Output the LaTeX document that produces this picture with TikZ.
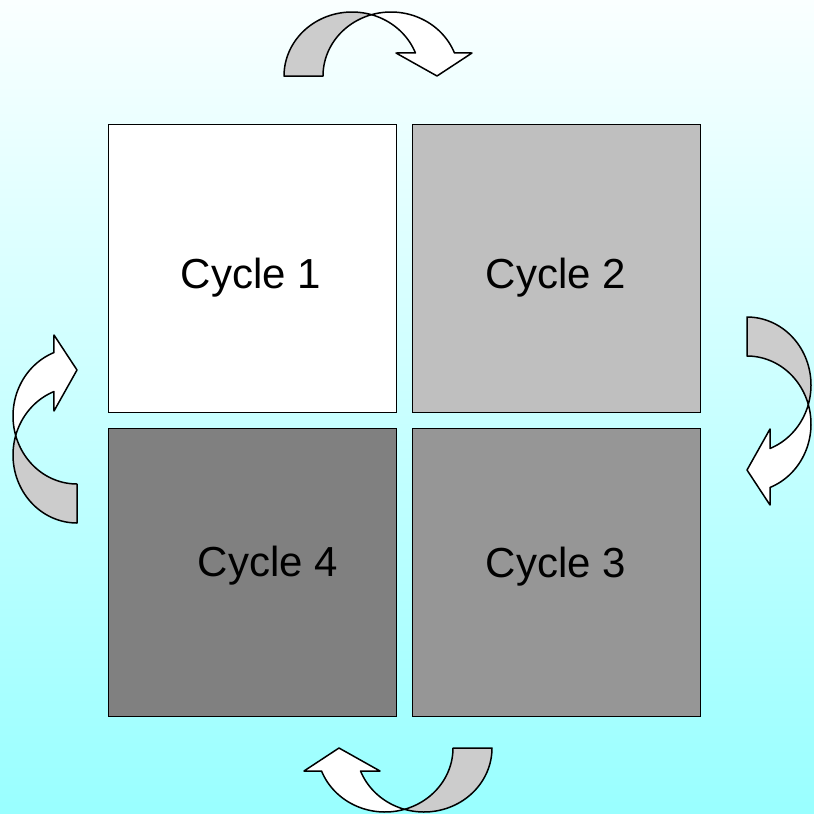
\documentclass[tikz,border=0pt]{standalone}
\usepackage{fontspec}
\setmainfont{Liberation Sans}
\begin{document}
\begin{tikzpicture}[x=1pt,y=-1pt,
  cell/.style={draw=black,line width=1pt,minimum size=288pt,inner sep=0pt},
  label/.style={font=\fontsize{42}{50}\selectfont,anchor=base,inner sep=0pt},
  back/.style={fill=black!20,draw=black,line width=1.5pt,line join=round},
  front/.style={fill=white,draw=black,line width=1.5pt,line join=round}]
% page and background gradient
\shade[top color={rgb,255:red,250;green,255;blue,255},bottom color={rgb,255:red,153;green,255;blue,255}]
  (0,0) rectangle (814,814);
\useasboundingbox (0,0) rectangle (814,814);

% the four cycle squares
\node[cell,fill=white]       (c1) at (252,268) {};
\node[cell,fill=black!25]    (c2) at (556,268) {};
\node[cell,fill=black!41]    (c3) at (556,572) {};
\node[cell,fill=black!50]    (c4) at (252,572) {};
\node[label] (t1) at (251,288) {Cycle 1};
\node[label] (t2) at (556,288) {Cycle 2};
\node[label] (t3) at (556,577) {Cycle 3};
\node[label] (t4) at (268,576) {Cycle 4};

% curved arrow: grey back band on the left, white front band with head on the right
\newcommand{\curvedarrow}{%
  \path[back] (284,76)
    -- plot[domain=180:73.3,samples=40,variable=\t] ({352+68*cos(\t)},{76-64*sin(\t)})
    -- plot[domain=106.7:180,samples=40,variable=\t] ({391+68*cos(\t)},{76-64*sin(\t)})
    -- cycle;
  \path[front]
    plot[domain=106.7:21.1,samples=40,variable=\t] ({391+68*cos(\t)},{76-64*sin(\t)})
    -- (472,53) -- (437,76) -- (396,53)
    -- plot[domain=21.1:73.3,samples=40,variable=\t] ({352+68*cos(\t)},{76-64*sin(\t)})
    -- cycle;}

% top arrow
\begin{scope}\curvedarrow\end{scope}
% right arrow
\begin{scope}[rotate around={-90:(395,428)}]\curvedarrow\end{scope}
% bottom arrow
\begin{scope}[rotate around={180:(388,412)}]\curvedarrow\end{scope}
% left arrow
\begin{scope}[rotate around={90:(404,403)}]\curvedarrow\end{scope}
\end{tikzpicture}
\end{document}
